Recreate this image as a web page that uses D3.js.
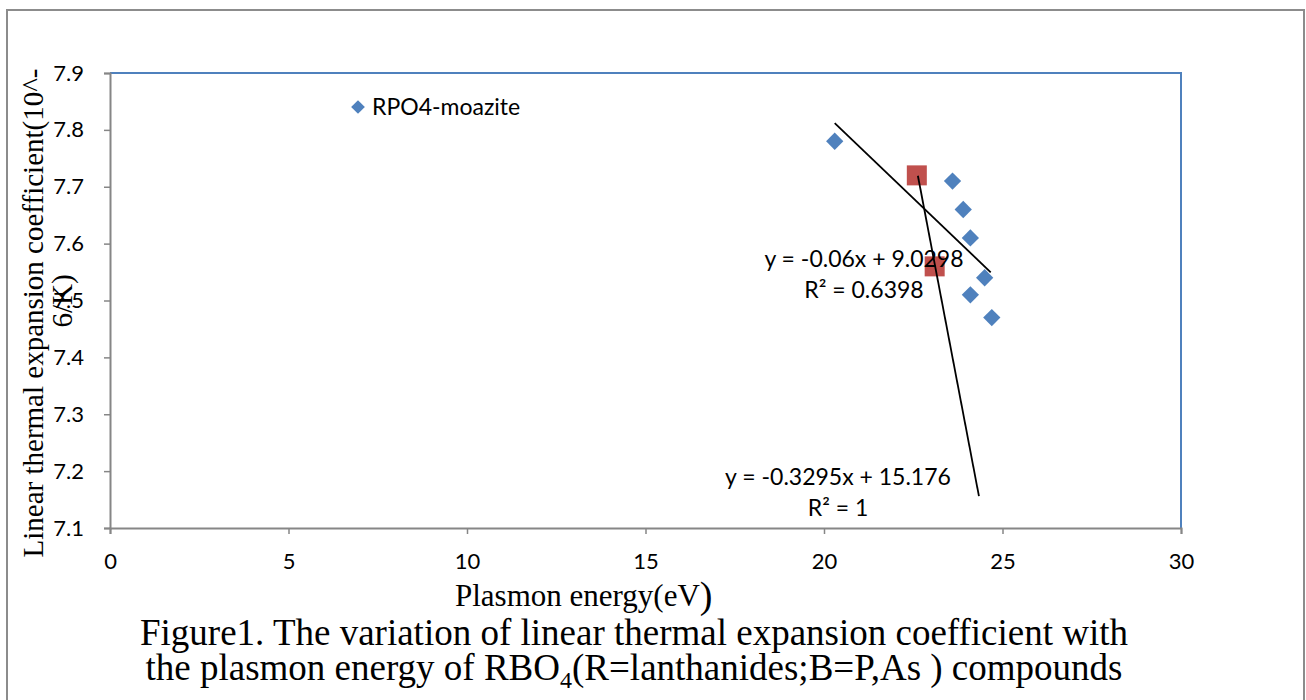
<!DOCTYPE html>
<html><head><meta charset="utf-8">
<script src="https://cdn.jsdelivr.net/npm/d3@7"></script>
<style>
html,body{margin:0;padding:0;background:#fff;}
svg{display:block;}
</style></head>
<body>
<svg id="chart" width="1306" height="700"></svg>
<script>
// ---- data ----
const blueX = [20.3, 23.6, 23.9, 24.1, 24.5, 24.1, 24.7];
const blueY = [7.78, 7.71, 7.66, 7.61, 7.54, 7.51, 7.47];
const redX = [22.6, 23.1];
const redY = [7.72, 7.56];
const seriesName = "RPO4-moazite";
const trendSlopes = [-0.06, -0.3295];
const trendIntercepts = [9.0298, 15.176];
const trendFrom = [20.3, 22.63];
const trendTo = [24.67, 24.34];
const trendEq = ["y = -0.06x + 9.0298", "y = -0.3295x + 15.176"];
const trendR2 = ["R² = 0.6398", "R² = 1"];
const xTicks = [0, 5, 10, 15, 20, 25, 30];
const yTicks = [7.1, 7.2, 7.3, 7.4, 7.5, 7.6, 7.7, 7.8, 7.9];

const svg = d3.select("#chart");
const L = 110, R = 1181, T = 73, B = 528;
const x = d3.scaleLinear().domain([0, 30]).range([L, R]);
const y = d3.scaleLinear().domain([7.1, 7.9]).range([B, T]);
const calibri = "Lato, 'Open Sans', sans-serif";
const serif = "'Liberation Serif', 'Times New Roman', serif";

// outer border
svg.append("rect").attr("x", 7).attr("y", 10).attr("width", 1297).attr("height", 710)
  .attr("fill", "none").attr("stroke", "#8c8c8c").attr("stroke-width", 2);

// plot area top/right border (blue)
svg.append("path").attr("d", `M${L},${T}H${R}V${B}`).attr("fill", "none")
  .attr("stroke", "#4F81BD").attr("stroke-width", 2);

// axes
const yAxis = d3.axisLeft(y).tickValues(yTicks).tickSize(6).tickPadding(20).tickFormat(d3.format(".1f"));
const gy = svg.append("g").attr("transform", `translate(${L},0)`).call(yAxis);
const xAxis = d3.axisBottom(x).tickValues(xTicks).tickSize(6).tickPadding(19).tickFormat(d3.format("d"));
const gx = svg.append("g").attr("transform", `translate(0,${B})`).call(xAxis);
[gx, gy].forEach(g => {
  g.select(".domain").attr("stroke", "#868686").attr("stroke-width", 2);
  g.selectAll(".tick line").attr("stroke", "#868686").attr("stroke-width", 1.5);
  g.selectAll(".tick text").attr("font-family", calibri).attr("font-size", 22).attr("fill", "#000");
});

// markers
const diamond = d3.symbol().type(d3.symbolDiamond2).size(190);
svg.append("g").selectAll("path").data(blueX).join("path")
  .attr("d", diamond)
  .attr("transform", (d, i) => `translate(${x(d)},${y(blueY[i])})`)
  .attr("fill", "#4F81BD");
svg.append("g").selectAll("rect").data(redX).join("rect")
  .attr("x", d => x(d) - 10).attr("y", (d, i) => y(redY[i]) - 10)
  .attr("width", 20).attr("height", 20).attr("fill", "#C0504D");

// trendlines
trendSlopes.forEach((m, i) => {
  const b = trendIntercepts[i];
  svg.append("line")
    .attr("x1", x(trendFrom[i])).attr("y1", y(m * trendFrom[i] + b))
    .attr("x2", x(trendTo[i])).attr("y2", y(m * trendTo[i] + b))
    .attr("stroke", "#000").attr("stroke-width", 1.8);
});

// trendline labels
const lblPos = [[864, 267, 298], [838, 485, 516]];
trendEq.forEach((t, i) => {
  const [cx, y1, y2] = lblPos[i];
  svg.append("text").attr("x", cx).attr("y", y1).attr("text-anchor", "middle")
    .attr("font-family", calibri).attr("font-size", 23).text(t);
  svg.append("text").attr("x", cx).attr("y", y2).attr("text-anchor", "middle")
    .attr("font-family", calibri).attr("font-size", 23).text(trendR2[i]);
});

// legend
svg.append("path").attr("d", d3.symbol().type(d3.symbolDiamond2).size(120))
  .attr("transform", "translate(358,107)").attr("fill", "#4F81BD");
svg.append("text").attr("x", 372).attr("y", 115).attr("font-family", calibri)
  .attr("font-size", 23).text(seriesName);

// axis titles
const yt = svg.append("g").attr("transform", "rotate(-90)");
yt.append("text").attr("x", -313).attr("y", 43).attr("text-anchor", "middle")
  .attr("font-family", serif).attr("font-size", 29).text("Linear thermal expansion coefficient(10^-");
yt.append("text").attr("x", -301).attr("y", 72).attr("text-anchor", "middle")
  .attr("font-family", serif).attr("font-size", 29).text("6/K)");

const xt = svg.append("text").attr("x", 455).attr("y", 606)
  .attr("font-family", serif).attr("font-size", 31);
xt.append("tspan").text("Plasmon energy(eV");
xt.append("tspan").attr("font-size", 38).attr("dy", 2).text(")");

// caption
svg.append("text").attr("x", 634).attr("y", 645).attr("text-anchor", "middle")
  .attr("font-family", serif).attr("font-size", 37)
  .text("Figure1. The variation of linear thermal expansion coefficient with");
const c2 = svg.append("text").attr("x", 634).attr("y", 680).attr("text-anchor", "middle")
  .attr("font-family", serif).attr("font-size", 37);
c2.append("tspan").text("the plasmon energy of RBO");
c2.append("tspan").attr("font-size", 24).attr("dy", 8).text("4");
c2.append("tspan").attr("dy", -8).text("(R=lanthanides;B=P,As ) compounds");
</script>
</body></html>
